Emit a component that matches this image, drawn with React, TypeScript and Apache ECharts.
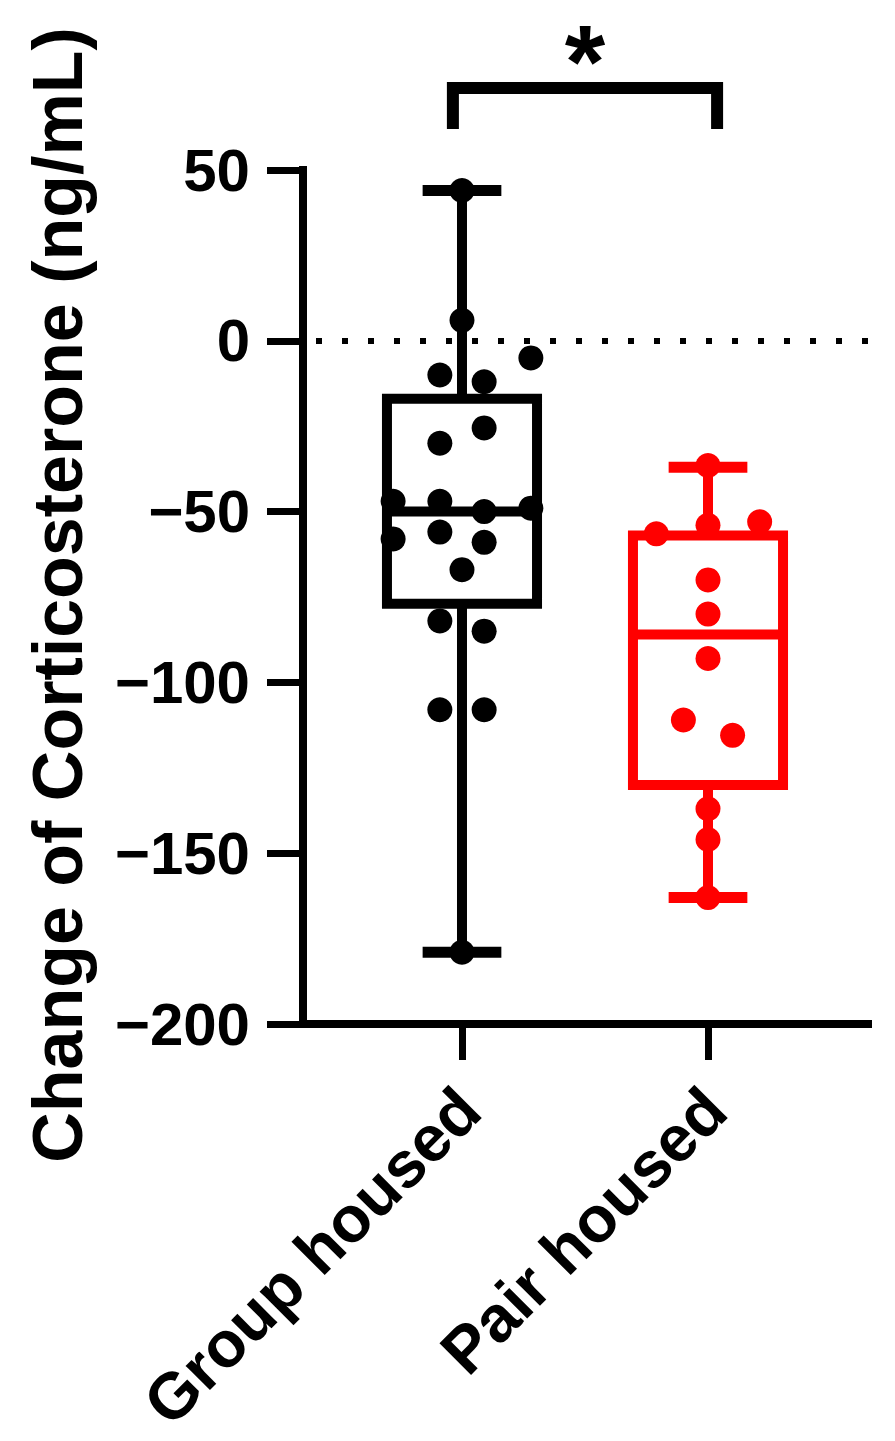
import React, { useEffect, useRef } from 'react';
import * as echarts from 'echarts';

const categories = ['Group housed', 'Pair housed'];
const seriesColors = ['#000000', '#ff0000'];

// box statistics: [min, Q1, median, Q3, max]
const groupBox = [-179, -77, -50, -17, 44];
const pairBox = [-163, -130, -86, -57, -37];

// individual animals
const groupValues = [44, 6, -5, -10, -12, -25.5, -30, -47, -47, -50, -49, -58, -56, -59, -67, -82, -85, -108, -108, -179];
const groupJitter = [0, 0, 0.28, -0.09, 0.09, 0.09, -0.09, -0.28, -0.09, 0.09, 0.28, -0.28, -0.09, 0.09, 0, -0.09, 0.09, -0.09, 0.09, 0];

const pairValues = [-36.5, -56.5, -54, -53, -70, -80, -93, -111, -115.5, -137, -146, -163];
const pairJitter = [0, -0.21, 0, 0.21, 0, 0, 0, -0.1, 0.1, 0, 0, 0];

const yTicks = [-200, -150, -100, -50, 0, 50];
const yTitle = 'Change of Corticosterone (ng/mL)';
const significance = '*';
const bracketLevels = [74, 62]; // bar level, leg ends (data units)
const bracketEnds = [-0.037, 1.037];

const FONT = 'Liberation Sans, Arial, sans-serif';

export default function App() {
  const ref = useRef<HTMLDivElement>(null);

  useEffect(() => {
    document.body.style.margin = '0';
    if (!ref.current) return;
    const chart = echarts.init(ref.current, null, { renderer: 'svg' });

    const boxData = [
      [0, ...groupBox],
      [1, ...pairBox],
    ];

    const option: any = {
      animation: false,
      backgroundColor: '#ffffff',
      grid: { left: 303, top: 170, right: 27, bottom: 417, containLabel: false },
      xAxis: {
        type: 'value',
        min: -0.6463,
        max: 1.6504,
        splitLine: { show: false },
        axisLine: { show: true, onZero: false, lineStyle: { color: '#000', width: 8, cap: 'square' } },
        axisTick: { show: true, customValues: [0, 1], length: 36, lineStyle: { color: '#000', width: 7 } },
        axisLabel: { show: false },
      },
      yAxis: {
        type: 'value',
        min: yTicks[0],
        max: yTicks[yTicks.length - 1],
        interval: 50,
        splitLine: { show: false },
        axisLine: { show: true, onZero: false, lineStyle: { color: '#000', width: 8, cap: 'square' } },
        axisTick: { show: true, length: 36, lineStyle: { color: '#000', width: 7 } },
        axisLabel: {
          margin: 53,
          fontFamily: FONT,
          fontWeight: 'bold',
          fontSize: 60,
          color: '#000',
          formatter: (v: number) => (v < 0 ? '\u2212' + Math.abs(v) : String(v)),
        },
      },
      series: [
        {
          type: 'custom',
          name: 'box',
          data: boxData,
          encode: { x: 0, y: [1, 2, 3, 4, 5] },
          z: 2,
          renderItem: (params: any, api: any) => {
            const xi = api.value(0) as number;
            const mn = api.value(1) as number;
            const q1 = api.value(2) as number;
            const md = api.value(3) as number;
            const q3 = api.value(4) as number;
            const mx = api.value(5) as number;
            const color = seriesColors[xi];
            const c = (x: number, y: number) => api.coord([x, y]);
            const bw = 0.305;
            const cw = 0.16;
            const left = c(xi - bw, q3)[0];
            const right = c(xi + bw, q3)[0];
            const cx = c(xi, q3)[0];
            const capL = c(xi - cw, q3)[0];
            const capR = c(xi + cw, q3)[0];
            const yq3 = c(xi, q3)[1];
            const yq1 = c(xi, q1)[1];
            const ymd = c(xi, md)[1];
            const ymx = c(xi, mx)[1];
            const ymn = c(xi, mn)[1];
            const st = (w: number) => ({ stroke: color, lineWidth: w, fill: 'none' });
            return {
              type: 'group',
              children: [
                { type: 'line', shape: { x1: cx, y1: ymx, x2: cx, y2: yq3 }, style: st(10) },
                { type: 'line', shape: { x1: cx, y1: yq1, x2: cx, y2: ymn }, style: st(10) },
                { type: 'line', shape: { x1: capL, y1: ymx, x2: capR, y2: ymx }, style: st(11) },
                { type: 'line', shape: { x1: capL, y1: ymn, x2: capR, y2: ymn }, style: st(11) },
                {
                  type: 'rect',
                  shape: { x: left, y: yq3, width: right - left, height: yq1 - yq3 },
                  style: { stroke: color, lineWidth: 10, fill: 'none' },
                },
                { type: 'line', shape: { x1: left, y1: ymd, x2: right, y2: ymd }, style: st(10) },
              ],
            };
          },
        },
        {
          type: 'scatter',
          name: categories[0],
          z: 3,
          symbol: 'circle',
          symbolSize: 25,
          itemStyle: { color: seriesColors[0], opacity: 1 },
          data: groupValues.map((v, i) => [0 + groupJitter[i], v]),
          markLine: {
            silent: true,
            symbol: ['none', 'none'],
            label: { show: false },
            lineStyle: { color: '#000', width: 6, type: [6, 20], dashOffset: 13 },
            data: [{ yAxis: 0 }],
            z: 1,
          },
        },
        {
          type: 'scatter',
          name: categories[1],
          z: 3,
          symbol: 'circle',
          symbolSize: 25,
          itemStyle: { color: seriesColors[1], opacity: 1 },
          data: pairValues.map((v, i) => [1 + pairJitter[i], v]),
        },
      ],
    };

    chart.setOption(option);

    const px = (x: number, y: number) =>
      chart.convertToPixel({ xAxisIndex: 0, yAxisIndex: 0 }, [x, y]) as number[];

    const [bxL, byTop] = px(bracketEnds[0], bracketLevels[0]);
    const [bxR, byBot] = px(bracketEnds[1], bracketLevels[1]);
    const bottomAxis = px(0, yTicks[0])[1];
    const topAxis = px(0, yTicks[yTicks.length - 1])[1];
    const axisX = px(-0.6463, 0)[0];

    const graphics: any[] = [
      {
        type: 'polyline',
        shape: { points: [[bxL, byBot], [bxL, byTop], [bxR, byTop], [bxR, byBot]] },
        style: { stroke: '#000', lineWidth: 12, fill: 'none', lineJoin: 'miter' },
      },
      {
        type: 'text',
        x: (bxL + bxR) / 2,
        y: byTop - 26,
        style: {
          text: significance,
          fontFamily: FONT,
          fontWeight: 'bold',
          fontSize: 104,
          fill: '#000',
          textAlign: 'center',
          textVerticalAlign: 'middle',
        },
      },
      {
        type: 'text',
        x: axisX - 245,
        y: (bottomAxis + topAxis) / 2 - 2,
        rotation: Math.PI / 2,
        style: {
          text: yTitle,
          fontFamily: FONT,
          fontWeight: 'bold',
          fontSize: 70,
          fill: '#000',
          textAlign: 'center',
          textVerticalAlign: 'middle',
        },
      },
    ];

    categories.forEach((name, i) => {
      const [tx] = px(i, yTicks[0]);
      graphics.push({
        type: 'text',
        x: tx - 16,
        y: bottomAxis + 52,
        rotation: Math.PI / 4,
        style: {
          text: name,
          fontFamily: FONT,
          fontWeight: 'bold',
          fontSize: 65,
          fill: '#000',
          textAlign: 'right',
          textVerticalAlign: 'top',
        },
      });
    });

    chart.setOption({ graphic: graphics });

    return () => {
      chart.dispose();
    };
  }, []);

  return <div ref={ref} style={{ width: 895, height: 1441 }} />;
}
